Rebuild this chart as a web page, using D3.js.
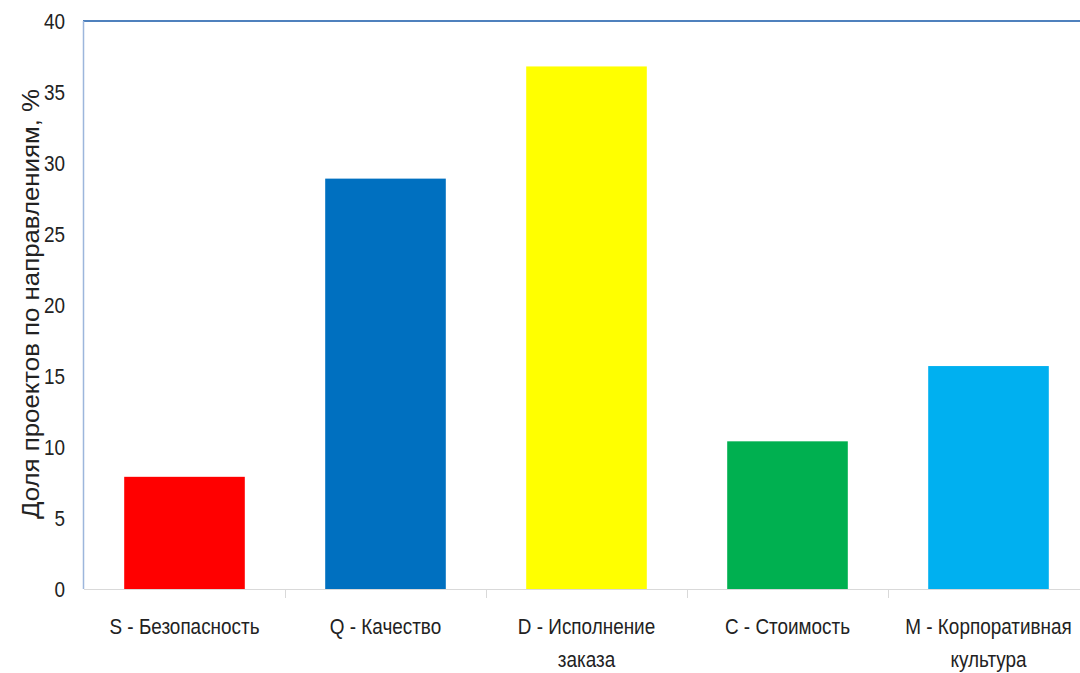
<!DOCTYPE html>
<html>
<head>
<meta charset="utf-8">
<script src="https://cdn.jsdelivr.net/npm/d3@7"></script>
<style>
  body { margin: 0; background: #fff; }
  svg { display: block; }
  .tick-label { font-family: "Liberation Sans", Arial, sans-serif; font-size: 22px; fill: #222; }
</style>
</head>
<body>
<div id="chart"></div>
<script>
const categories = ["S - Безопасность", "Q - Качество", "D - Исполнение заказа", "C - Стоимость", "M - Корпоративная культура"];
const labelLines = [["S - Безопасность"], ["Q - Качество"], ["D - Исполнение", "заказа"], ["C - Стоимость"], ["M - Корпоративная", "культура"]];
const values = [7.9, 28.9, 36.8, 10.4, 15.7];
const barColors = ["#ff0000", "#0070c0", "#ffff00", "#00b050", "#00b0f0"];
const yTicks = [0, 5, 10, 15, 20, 25, 30, 35, 40];
const yTitle = "Доля проектов по направлениям, %";

const width = 1080, height = 673;
const plotLeft = 84, plotRight = 1089, plotTop = 21, plotBottom = 589;
const narrow = 0.86; // the original labels use a condensed face

const svg = d3.select("#chart").append("svg")
    .attr("width", width)
    .attr("height", height);

const x = d3.scaleBand()
    .domain(categories)
    .range([plotLeft, plotRight])
    .paddingInner(0.4)
    .paddingOuter(0.2);

// boundaries between categories for the small tick marks
const band = d3.scaleBand().domain(categories).range([plotLeft, plotRight]);

const y = d3.scaleLinear().domain([0, 40]).range([plotBottom, plotTop]);

// bars
svg.selectAll("rect.bar")
    .data(values)
    .join("rect")
    .attr("class", "bar")
    .attr("x", (d, i) => x(categories[i]))
    .attr("width", x.bandwidth())
    .attr("y", d => y(d))
    .attr("height", d => y(0) - y(d))
    .attr("fill", (d, i) => barColors[i]);

// x axis line and category separators
svg.append("line")
    .attr("x1", plotLeft).attr("x2", plotRight)
    .attr("y1", plotBottom + 0.5).attr("y2", plotBottom + 0.5)
    .attr("stroke", "#d9d9d9").attr("stroke-width", 1);

svg.selectAll("line.sep")
    .data(categories.slice(1))
    .join("line")
    .attr("class", "sep")
    .attr("x1", d => Math.round(band(d)) + 0.5)
    .attr("x2", d => Math.round(band(d)) + 0.5)
    .attr("y1", plotBottom).attr("y2", plotBottom + 9)
    .attr("stroke", "#d9d9d9");

// plot frame: top and left in blue
svg.append("line")
    .attr("x1", plotLeft - 1).attr("x2", width)
    .attr("y1", plotTop).attr("y2", plotTop)
    .attr("stroke", "#4f81bd").attr("stroke-width", 2);

svg.append("line")
    .attr("x1", plotLeft - 0.5).attr("x2", plotLeft - 0.5)
    .attr("y1", plotTop).attr("y2", plotBottom)
    .attr("stroke", "#9db6dc").attr("stroke-width", 1.5);

// y tick labels
svg.selectAll("text.ylab")
    .data(yTicks)
    .join("text")
    .attr("class", "tick-label ylab")
    .attr("transform", d => `translate(65,${y(d)}) scale(${narrow},1)`)
    .attr("dy", "0.35em")
    .attr("text-anchor", "end")
    .text(d => d);

// x labels
const xl = svg.selectAll("text.xlab")
    .data(categories)
    .join("text")
    .attr("class", "tick-label xlab")
    .attr("text-anchor", "middle")
    .attr("transform", d => `translate(${x(d) + x.bandwidth() / 2},634) scale(${narrow},1)`);

xl.selectAll("tspan")
    .data((d, i) => labelLines[i])
    .join("tspan")
    .attr("x", 0)
    .attr("dy", (d, j) => j === 0 ? 0 : 33)
    .text(d => d);

// y axis title
svg.append("text")
    .attr("transform", "translate(39,304) rotate(-90)")
    .attr("text-anchor", "middle")
    .attr("textLength", 430)
    .attr("lengthAdjust", "spacingAndGlyphs")
    .style("font-family", "'Liberation Sans', Arial, sans-serif")
    .style("font-size", "24px")
    .style("fill", "#222")
    .text(yTitle);
</script>
</body>
</html>
